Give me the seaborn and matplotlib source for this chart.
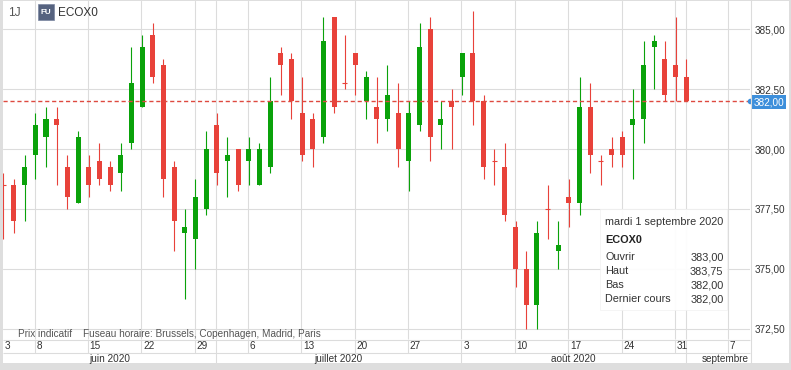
import numpy as np
import pandas as pd
import matplotlib
matplotlib.use("Agg")
import matplotlib.pyplot as plt
from matplotlib.patches import Rectangle
import seaborn as sns

# ---------------- data ----------------
symbol = "ECOX0"
period = "1J"
first_day = "2020-06-03"
axis_end_day = "2020-09-09"

opens = [378.5, 378.5, 378.5, 379.75, 380.5, 381.25, 379.25, 377.75, 379.25, 379.5,
         379.25, 379.0, 380.25, 381.75, 384.75, 383.5, 379.25, 376.5, 376.25, 377.5,
         381.0, 379.5, 380.0, 379.5, 378.5, 379.25, 384.0, 383.75, 381.5, 381.25,
         380.5, 385.5, 382.75, 384.0, 382.0, 381.75, 381.25, 381.5, 379.5, 381.0,
         385.0, 381.0, 382.0, 383.0, 384.0, 382.0, 379.5, 379.25, 376.75, 375.0,
         373.5, 377.5, 375.75, 378.0, 377.75, 381.75, 379.5, 380.0, 380.5, 381.0,
         381.25, 384.25, 383.75, 383.5, 383.0]
highs = [379.0, 378.75, 379.75, 381.5, 381.75, 381.75, 379.75, 380.75, 379.75, 380.25,
         379.5, 380.25, 384.25, 384.75, 385.25, 383.75, 379.5, 377.5, 378.75, 380.75,
         381.5, 380.5, 380.0, 380.5, 380.25, 383.0, 384.25, 384.0, 383.0, 381.5,
         385.5, 385.5, 384.75, 384.0, 383.25, 383.0, 383.5, 382.75, 382.0, 385.25,
         385.5, 382.0, 382.5, 384.0, 385.75, 382.25, 380.0, 380.25, 377.0, 375.75,
         377.0, 378.5, 377.0, 378.75, 383.0, 382.75, 379.75, 380.5, 380.75, 382.5,
         384.5, 384.75, 384.5, 385.5, 383.75]
lows = [376.25, 376.5, 377.0, 378.75, 379.25, 378.5, 377.5, 377.75, 378.0, 378.5,
        378.25, 378.25, 380.0, 381.75, 382.75, 378.0, 375.75, 373.75, 375.0, 377.25,
        378.5, 378.0, 378.25, 378.5, 378.5, 379.0, 382.25, 381.25, 379.5, 379.25,
        380.25, 381.5, 382.5, 382.25, 381.25, 380.25, 380.75, 379.25, 378.25, 380.75,
        379.5, 380.0, 380.0, 382.25, 381.0, 378.75, 378.5, 377.0, 374.25, 372.5,
        372.5, 376.25, 375.0, 376.75, 377.25, 379.0, 378.5, 379.25, 379.25, 378.75,
        380.25, 382.5, 382.0, 382.0, 382.0]
closes = [378.5, 377.0, 379.25, 381.0, 381.25, 381.0, 378.0, 380.5, 378.5, 378.75,
          378.5, 379.75, 382.75, 384.25, 383.0, 378.75, 377.0, 376.75, 378.0, 380.0,
          379.0, 379.75, 378.5, 380.0, 380.0, 382.0, 383.5, 382.0, 379.75, 380.0,
          384.5, 381.75, 382.75, 383.5, 383.0, 381.25, 382.25, 380.0, 381.5, 384.25,
          380.5, 381.25, 381.75, 384.0, 382.0, 379.25, 379.5, 377.25, 375.0, 373.5,
          376.5, 377.5, 376.0, 377.75, 381.75, 379.75, 379.5, 379.75, 379.75, 381.25,
          383.5, 384.5, 382.25, 383.0, 382.0]

y_ticks = [372.5, 375.0, 377.5, 380.0, 382.5, 385.0]
month_labels = ["juin 2020", "juillet 2020", "août 2020", "septembre"]
tooltip_date = "mardi 1 septembre 2020"
tooltip_fields = ["Ouvrir", "Haut", "Bas", "Dernier cours"]
footer_notes = ["Prix indicatif", "Fuseau horaire: Brussels, Copenhagen, Madrid, Paris"]

# ---------------- style ----------------
W, H = 791, 370
GREEN = "#0aa20a"
RED = "#e8423a"
DASH = "#de4a40"
GRID = "#dcdcdc"
TEXT = "#333333"
BLUE = "#3d8fdb"

sns.set_style("white")
plt.rcParams["font.family"] = ["Liberation Sans", "DejaVu Sans"]


def fmt(v):
    return f"{v:.2f}".replace(".", ",")


days = pd.bdate_range(first_day, axis_end_day)
n = len(opens)
df = pd.DataFrame({"date": days[:n], "open": opens, "high": highs,
                   "low": lows, "close": closes})
df["pos"] = np.arange(n)
df["color"] = np.where(df["close"] > df["open"], GREEN, RED)
df["bottom"] = df[["open", "close"]].min(axis=1)
df["height"] = (df["close"] - df["open"]).abs()
doji = df[df["height"] == 0]
body = df[df["height"] > 0]

all_days = pd.DataFrame({"date": days, "pos": np.arange(len(days))})
is_monday = all_days["date"].dt.weekday == 0
is_month_start = all_days["date"].dt.month != all_days["date"].shift(1).dt.month
is_month_start.iloc[0] = False
grid_pos = all_days.loc[is_monday | is_month_start, "pos"].values
label_rows = all_days[is_monday | (all_days["pos"] == 0)]
month_start_pos = all_days.loc[is_month_start, "pos"].values

fig = plt.figure(figsize=(W / 100, H / 100), dpi=100, facecolor="#dedede")


def px_axes(l, t, r, b, **kw):
    return fig.add_axes([l / W, 1 - b / H, (r - l) / W, (b - t) / H], **kw)


bg = px_axes(0, 0, W, H, zorder=0)
bg.set_xlim(0, W)
bg.set_ylim(H, 0)
bg.axis("off")
bg.add_patch(Rectangle((3, 1), 786, 362, fc="white", ec="none"))

# ---------------- main price axes ----------------
ax = px_axes(3, 1, 750, 339, zorder=2)
ax.set_facecolor("white")
XMIN, XMAX = -0.03, 69.97
ax.set_xlim(XMIN, XMAX)
ax.set_ylim(372.083, 386.167)
for s in ax.spines.values():
    s.set_visible(False)

for g in grid_pos:
    ax.axvline(g - 0.07, color=GRID, lw=0.8, zorder=0)
for t in y_ticks:
    ax.axhline(t, color=GRID, lw=0.8, zorder=0)

ax.vlines(df["pos"], df["low"], df["high"], colors=df["color"], lw=0.8, zorder=2)
ax.bar(body["pos"], body["height"], bottom=body["bottom"], width=0.47,
       color=body["color"], linewidth=0, zorder=3)
ax.hlines(doji["open"], doji["pos"] - 0.235, doji["pos"] + 0.235,
          colors=doji["color"], lw=0.8, zorder=3)

last = closes[-1]
ax.axhline(last, color=DASH, lw=1.0, dashes=(3, 2), zorder=4)

ax.set_xticks([])
ax.yaxis.tick_right()
ax.set_yticks(y_ticks)
ax.set_yticklabels([fmt(t) for t in y_ticks])
ax.tick_params(axis="y", length=0, pad=3, labelsize=7.2, labelcolor=TEXT)

yt = ax.get_yaxis_transform()
ax.plot([1.0], [last], marker="o", ms=3, color=BLUE, transform=yt,
        clip_on=False, zorder=6)
ax.text(1 + 3.2 / 747, last, fmt(last), transform=yt, ha="left",
        va="center_baseline", fontsize=7.2, color="white", zorder=7,
        bbox=dict(boxstyle="square,pad=0.18", fc=BLUE, ec="none"))

# ---------------- date rows ----------------
da = px_axes(3, 339, 750, 363, zorder=2, sharex=ax)
da.set_ylim(363, 339)
da.axis("off")
da.set_xlim(XMIN, XMAX)
da.hlines([339.5, 352.5], XMIN, XMAX, colors=GRID, lw=0.8, clip_on=False)
for g in grid_pos:
    da.vlines(g - 0.07, 339, 352.5, colors=GRID, lw=0.8)
for m in month_start_pos:
    da.vlines(m - 0.07, 352.5, 363, colors=GRID, lw=0.8)
for _, r in label_rows.iterrows():
    da.text(r["pos"] + 0.09, 348.7, str(r["date"].day), ha="left",
            va="baseline", fontsize=7.2, color=TEXT)
bounds = [XMIN] + list(month_start_pos - 0.07)
for k, lab in enumerate(month_labels[:-1]):
    da.text((bounds[k] + bounds[k + 1]) / 2, 362.2, lab, ha="center",
            va="baseline", fontsize=7.2, color=TEXT)
da.text(XMAX - 0.08, 362.2, month_labels[-1], ha="right", va="baseline",
        fontsize=7.2, color=TEXT)

# ---------------- overlay (header, notes, tooltip) ----------------
ov = px_axes(0, 0, W, H, zorder=10)
ov.set_xlim(0, W)
ov.set_ylim(H, 0)
ov.axis("off")
ov.patch.set_alpha(0)
ov.vlines(750.5, 0, 363, colors=GRID, lw=0.8)

ov.text(8, 16, period, ha="left", va="baseline", fontsize=8.6, color="#555555")
ov.add_patch(Rectangle((38, 4), 16, 16, fc="#56637f", ec="#7a86a0", lw=0.5))
ov.text(46, 12.3, "FU", ha="center", va="center", fontsize=5.8,
        color="white", fontweight="bold")
ov.text(58.3, 16, symbol, ha="left", va="baseline", fontsize=8.5, color=TEXT)

ov.text(18, 336.7, footer_notes[0], ha="left", va="baseline", fontsize=7.2,
        color="#555555")
ov.text(83.3, 336.7, footer_notes[1], ha="left", va="baseline", fontsize=7.2,
        color="#555555")

ov.add_patch(Rectangle((600, 209), 127, 101, fc="white", ec="#f0f0f0",
                       lw=0.5, alpha=0.93))
ov.text(605, 225, tooltip_date, ha="left", va="baseline", fontsize=7.8, color=TEXT)
ov.text(605, 243, symbol, ha="left", va="baseline", fontsize=7.8,
        color="#222222", fontweight="bold")
vals = [opens[-1], highs[-1], lows[-1], closes[-1]]
for k, (lab, v) in enumerate(zip(tooltip_fields, vals)):
    yb = 260 + 14 * k
    ov.text(605, yb, lab, ha="left", va="baseline", fontsize=7.8, color=TEXT)
    ov.text(723.5, yb, fmt(v), ha="right", va="baseline", fontsize=7.8, color=TEXT)

fig.savefig("out.png", dpi=100, facecolor=fig.get_facecolor())
